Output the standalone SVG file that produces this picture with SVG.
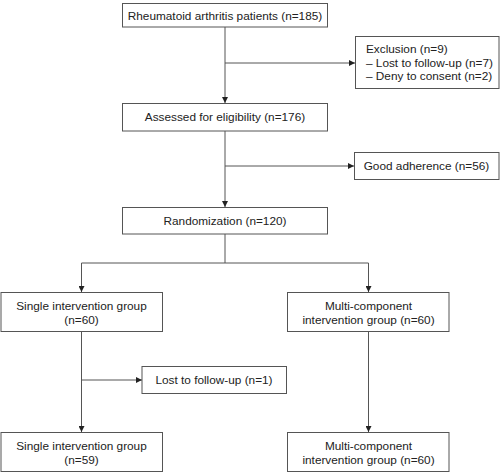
<svg xmlns="http://www.w3.org/2000/svg" width="500" height="473" viewBox="0 0 500 473">
<style>
.box{fill:#fff;stroke:#555;stroke-width:1}
.ln{fill:none;stroke:#555;stroke-width:1}
text{font-family:"Liberation Sans",Arial,sans-serif;font-size:11.8px;fill:#222}
.c{text-anchor:middle}
</style>
<defs>
<marker id="ah" viewBox="0 0 10 10" refX="10" refY="5" markerWidth="6" markerHeight="6" markerUnits="userSpaceOnUse" orient="auto">
<path d="M0,0 L10,5 L0,10 Z" fill="#222"/>
</marker>
</defs>
<rect width="500" height="473" fill="#fff"/>
<g id="connectors">
<path class="ln" d="M225,27 V103" marker-end="url(#ah)"/>
<path class="ln" d="M225,63 H355" marker-end="url(#ah)"/>
<path class="ln" d="M225,131 V207" marker-end="url(#ah)"/>
<path class="ln" d="M225,166 H354" marker-end="url(#ah)"/>
<path class="ln" d="M225,234 V263"/>
<path class="ln" d="M81.5,263 H368.5"/>
<path class="ln" d="M81.5,263 V292" marker-end="url(#ah)"/>
<path class="ln" d="M368.5,263 V292" marker-end="url(#ah)"/>
<path class="ln" d="M81.5,332 V432" marker-end="url(#ah)"/>
<path class="ln" d="M81.5,380 H142" marker-end="url(#ah)"/>
<path class="ln" d="M368.5,332 V432" marker-end="url(#ah)"/>
</g>
<g id="n1"><rect class="box" x="122.5" y="3.5" width="205" height="23.5"/><text class="c" x="225" y="19.5">Rheumatoid arthritis patients (n=185)</text></g>
<g id="n2"><rect class="box" x="355.5" y="36.5" width="143.5" height="52"/><text x="366" y="52.5">Exclusion (n=9)</text><text x="366" y="66.5">– Lost to follow-up (n=7)</text><text x="366" y="80">– Deny to consent (n=2)</text></g>
<g id="n3"><rect class="box" x="122.5" y="103.5" width="205" height="27.5"/><text class="c" x="225" y="121">Assessed for eligibility (n=176)</text></g>
<g id="n4"><rect class="box" x="354.5" y="152.5" width="144.5" height="27"/><text class="c" x="426.5" y="170">Good adherence (n=56)</text></g>
<g id="n5"><rect class="box" x="122.5" y="207.5" width="205" height="26.5"/><text class="c" x="225" y="225">Randomization (n=120)</text></g>
<g id="n6"><rect class="box" x="1" y="292.5" width="161.5" height="39"/><text class="c" x="81.5" y="310">Single intervention group</text><text class="c" x="81.5" y="324">(n=60)</text></g>
<g id="n7"><rect class="box" x="287.5" y="292.5" width="161.5" height="39"/><text class="c" x="368.5" y="310">Multi-component</text><text class="c" x="368.5" y="324">intervention group (n=60)</text></g>
<g id="n8"><rect class="box" x="142" y="366.5" width="144.5" height="27"/><text class="c" x="214" y="384">Lost to follow-up (n=1)</text></g>
<g id="n9"><rect class="box" x="1" y="432.5" width="161.5" height="39"/><text class="c" x="81.5" y="450">Single intervention group</text><text class="c" x="81.5" y="464">(n=59)</text></g>
<g id="n10"><rect class="box" x="287.5" y="432.5" width="161.5" height="39"/><text class="c" x="368.5" y="450">Multi-component</text><text class="c" x="368.5" y="464">intervention group (n=60)</text></g>
</svg>
